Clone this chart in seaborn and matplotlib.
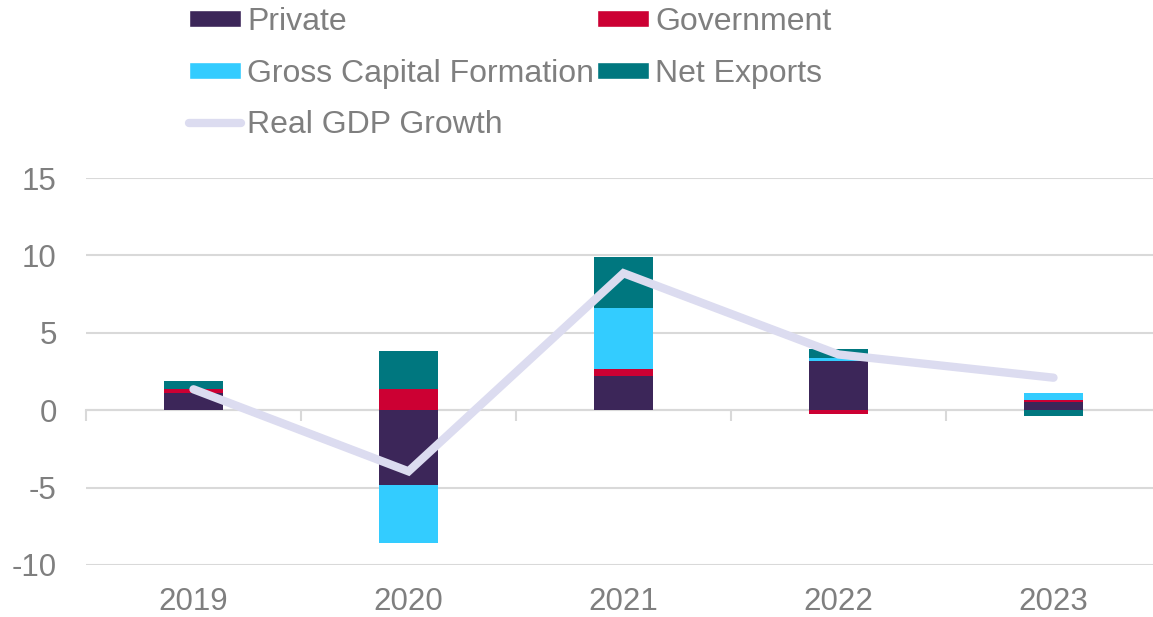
import matplotlib
matplotlib.use("Agg")
import matplotlib.pyplot as plt
import seaborn as sns
import numpy as np
from matplotlib.patches import Patch
from matplotlib.lines import Line2D

years = ["2019", "2020", "2021", "2022", "2023"]
private = [1.1, -4.85, 2.2, 3.15, 0.55]
government = [0.3, 1.35, 0.45, -0.25, 0.1]
gross_capital = [0.0, -3.7, 3.95, 0.2, 0.45]
net_exports = [0.5, 2.5, 3.3, 0.6, -0.4]
gdp_growth = [1.35, -3.95, 8.85, 3.6, 2.1]

series_names = ["Private", "Government", "Gross Capital Formation", "Net Exports"]
series_vals = [private, government, gross_capital, net_exports]
colors = ["#3C2659", "#CC0033", "#33CCFF", "#00777F"]
line_color = "#DCDCF0"
text_color = "#7F7F7F"
grid_color = "#D9D9D9"

sns.set_theme(style="white")
plt.rcParams["font.family"] = ["Liberation Sans", "DejaVu Sans"]

W, H = 1153, 617
fig = plt.figure(figsize=(W / 100, H / 100), dpi=100)
ax = fig.add_axes([86 / W, (H - 565) / H, 1075 / W, 387 / H])

x = np.arange(len(years))
pos_base = np.zeros(len(years))
neg_base = np.zeros(len(years))
for name, vals, c in zip(series_names, series_vals, colors):
    v = np.array(vals, dtype=float)
    bottoms = np.where(v >= 0, pos_base, neg_base)
    ax.bar(x, v, width=0.27, bottom=bottoms, color=c, linewidth=0, zorder=2)
    pos_base = pos_base + np.where(v >= 0, v, 0)
    neg_base = neg_base + np.where(v < 0, v, 0)

sns.lineplot(x=x, y=gdp_growth, ax=ax, color=line_color, linewidth=6,
             solid_capstyle="round", solid_joinstyle="miter", zorder=3)

ax.set_xlim(-0.5, 4.5)
ax.set_ylim(-10, 15)
ax.set_yticks([-10, -5, 0, 5, 10, 15])
ax.set_yticklabels(["-10", "-5", "0", "5", "10", "15"])
ax.set_xticks(x)
ax.set_xticklabels(years)
ax.yaxis.grid(True, color=grid_color, linewidth=1.5, zorder=0)
ax.set_axisbelow(True)
for s in ax.spines.values():
    s.set_visible(False)
ax.tick_params(axis="both", length=0, labelsize=22.5, labelcolor=text_color)
ax.tick_params(axis="x", pad=16)
ax.tick_params(axis="y", pad=21)

# zero axis line with category-boundary ticks
sec = ax.secondary_xaxis(0.4)
sec.set_xticks(np.arange(-0.5, 5.0, 1.0))
sec.set_xticklabels([])
sec.tick_params(axis="x", direction="out", length=8, width=1.5, color=grid_color)
sec.spines["bottom"].set_color(grid_color)
sec.spines["bottom"].set_linewidth(1.5)
for k in ["top", "left", "right"]:
    if k in sec.spines:
        sec.spines[k].set_visible(False)

handles = [
    Patch(facecolor=colors[0], label=series_names[0]),
    Patch(facecolor=colors[2], label=series_names[2]),
    Line2D([0], [0], color=line_color, linewidth=6, solid_capstyle="round", label="Real GDP Growth"),
    Patch(facecolor=colors[1], label=series_names[1]),
    Patch(facecolor=colors[3], label=series_names[3]),
]
leg = fig.legend(handles=handles, ncol=2, loc="upper left",
                 bbox_to_anchor=(189 / W, 1 - 7 / H), frameon=False,
                 fontsize=23, labelcolor=text_color, borderpad=0,
                 handlelength=1.62, handleheight=0.47, handletextpad=0.2,
                 columnspacing=0.1, labelspacing=0.68, borderaxespad=0)

fig.savefig("out.png", dpi=100)
